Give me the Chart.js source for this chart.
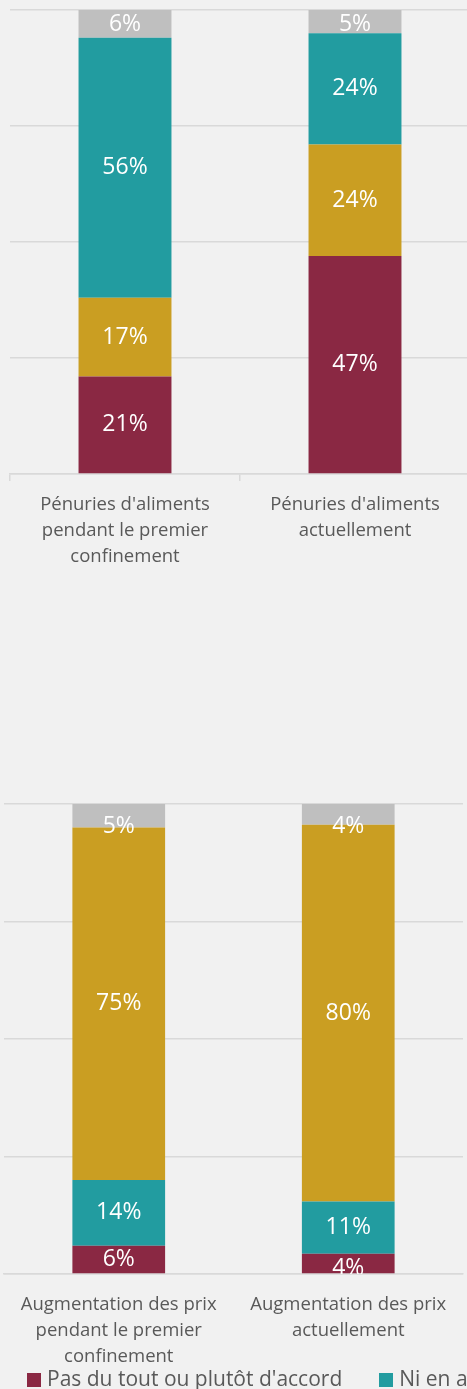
<!DOCTYPE html>
<html lang="fr">
<head>
<meta charset="utf-8">
<title>Pénuries et prix</title>
<script src="https://cdn.jsdelivr.net/npm/chart.js@4.4.1/dist/chart.umd.min.js"></script>
<style>
    html, body {
        margin: 0;
        padding: 0;
        background: #f1f1f1;
        overflow: hidden;
        width: 467px;
        height: 1389px;
    }
    .chart-box {
        position: absolute;
        left: 0;
    }
    #legend {
        position: absolute;
        left: 27px;
        top: 1364px;
        white-space: nowrap;
        font-family: "Open Sans", sans-serif;
        font-size: 21px;
        line-height: 28px;
        color: #595959;
    }
    #legend .item {
        display: inline-block;
        margin-right: 37px;
    }
    #legend .box {
        display: inline-block;
        width: 14px;
        height: 14px;
        margin-right: 6px;
        vertical-align: -1px;
    }
</style>
</head>
<body>
<div class="chart-box" style="top:0px"><canvas id="chart-top" width="480" height="600"></canvas></div>
<div class="chart-box" style="top:790px"><canvas id="chart-bottom" width="467" height="600"></canvas></div>
<div id="legend"></div>

<script>
// Categories
const topCategories = [
    ["Pénuries d'aliments", 'pendant le premier', 'confinement'],
    ["Pénuries d'aliments", 'actuellement']
];
const bottomCategories = [
    ['Augmentation des prix', 'pendant le premier', 'confinement'],
    ['Augmentation des prix', 'actuellement']
];

// Series names (legend order)
const seriesNames = [
    "Pas du tout ou plutôt d'accord",
    'Ni en accord ni en désaccord',
    "Plutôt ou tout à fait d'accord",
    'Ne sait pas'
];
const seriesColors = ['#8a2843', '#229ca0', '#ca9e22', '#bfbfbf'];

// Values (%) - shortages chart
const topDisagree = [21, 47];
const topNeutral = [56, 24];
const topAgree = [17, 24];
const topUnknown = [6, 5];

// Values (%) - prices chart
const bottomDisagree = [6, 4.3];
const bottomNeutral = [14, 11.1];
const bottomAgree = [75, 80.2];
const bottomUnknown = [5, 4.4];

const FONT = '"Open Sans", sans-serif';
const GRID = '#d9d9d9';

// Draws the value inside each stacked segment
const segmentLabels = {
    id: 'segmentLabels',
    afterDatasetsDraw(chart, args, opts) {
        const ctx = chart.ctx;
        const area = chart.chartArea;
        ctx.save();
        ctx.beginPath();
        ctx.rect(area.left, area.top, area.right - area.left, area.bottom - area.top);
        ctx.clip();
        ctx.fillStyle = '#ffffff';
        ctx.font = `23px ${FONT}`;
        ctx.textAlign = 'center';
        ctx.textBaseline = 'middle';
        chart.data.datasets.forEach((ds, i) => {
            const meta = chart.getDatasetMeta(i);
            meta.data.forEach((bar, j) => {
                let y = (bar.y + bar.base) / 2;
                y = Math.max(y, area.top + (opts.clampTop || 0));
                // small segments resting on the axis get pushed down a bit
                if (Math.abs(bar.base - area.bottom) < 1 && bar.base - bar.y < 24) {
                    y = area.bottom - (opts.clampBottom || 0);
                }
                ctx.fillText(Math.round(ds.data[j]) + '%', bar.x, y);
            });
        });
        ctx.restore();
    }
};

function makeDataset(index, data) {
    return {
        label: seriesNames[index],
        data: data,
        backgroundColor: seriesColors[index],
        borderWidth: 0,
        categoryPercentage: 1,
        barPercentage: 0.404
    };
}

function buildChart(canvasId, labels, datasets, cfg) {
    const ctx = document.getElementById(canvasId).getContext('2d');
    return new Chart(ctx, {
        type: 'bar',
        data: { labels: labels, datasets: datasets },
        plugins: [segmentLabels],
        options: {
            responsive: false,
            animation: false,
            layout: { padding: cfg.padding },
            plugins: {
                legend: { display: false },
                tooltip: { enabled: false },
                segmentLabels: { clampTop: cfg.clampTop, clampBottom: cfg.clampBottom }
            },
            scales: {
                x: {
                    stacked: true,
                    afterFit: (scale) => { scale.height = cfg.xHeight; },
                    grid: {
                        display: cfg.ticks,
                        drawOnChartArea: false,
                        drawTicks: true,
                        tickLength: 7,
                        color: GRID,
                        lineWidth: 1.5
                    },
                    border: { display: true, color: GRID, width: 1.5 },
                    ticks: {
                        color: '#595959',
                        padding: cfg.labelPadding,
                        maxRotation: 0,
                        autoSkip: false,
                        font: { family: FONT, size: 18.5, lineHeight: '26px' }
                    }
                },
                y: {
                    stacked: true,
                    min: 0,
                    max: 100,
                    afterFit: (scale) => { scale.width = 0; },
                    ticks: { display: false, stepSize: 25 },
                    grid: { color: GRID, lineWidth: 1.5, drawTicks: false },
                    border: { display: false }
                }
            }
        }
    });
}

buildChart('chart-top', topCategories, [
    makeDataset(0, topDisagree),
    makeDataset(2, topAgree),
    makeDataset(1, topNeutral),
    makeDataset(3, topUnknown)
], { padding: { top: 10, left: 10, right: 10, bottom: 0 }, xHeight: 126, ticks: true, labelPadding: 11, clampTop: 14, clampBottom: 0 });

buildChart('chart-bottom', bottomCategories, [
    makeDataset(0, bottomDisagree),
    makeDataset(1, bottomNeutral),
    makeDataset(2, bottomAgree),
    makeDataset(3, bottomUnknown)
], { padding: { top: 14, left: 4, right: 4, bottom: 0 }, xHeight: 116, ticks: false, labelPadding: 11, clampTop: 22, clampBottom: 6 });

// HTML legend built from the series
const legend = document.getElementById('legend');
seriesNames.forEach((name, i) => {
    const item = document.createElement('span');
    item.className = 'item';
    const box = document.createElement('span');
    box.className = 'box';
    box.style.background = seriesColors[i];
    item.appendChild(box);
    item.appendChild(document.createTextNode(name));
    legend.appendChild(item);
});
</script>
</body>
</html>
